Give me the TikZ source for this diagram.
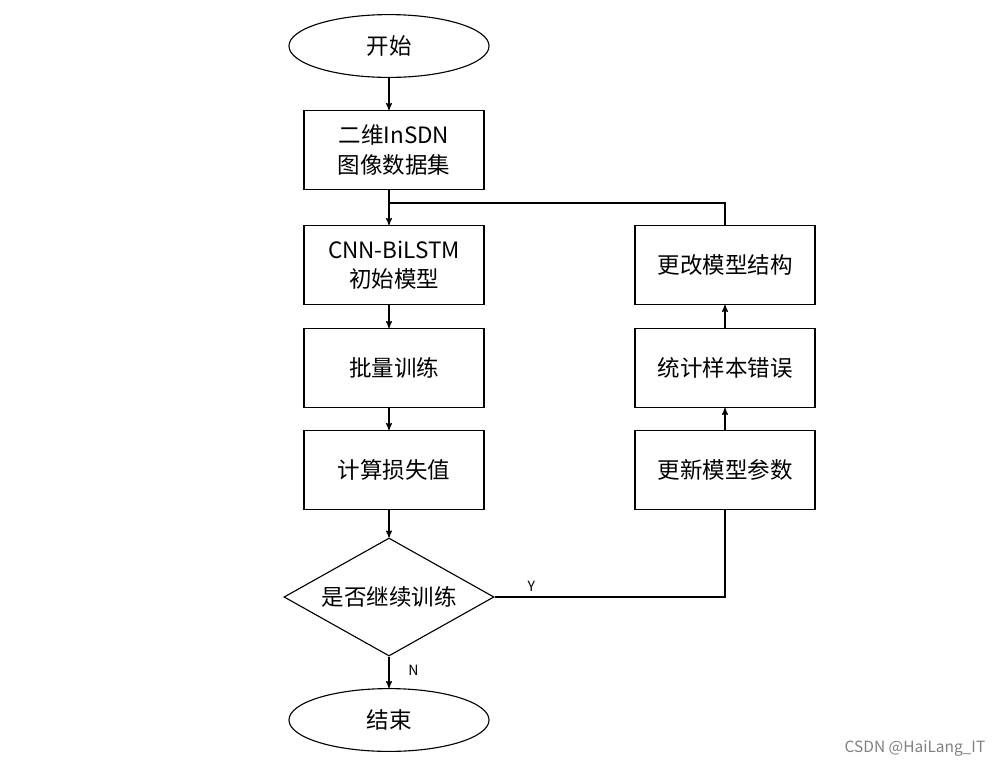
\documentclass[tikz,border=0pt]{standalone}
\usepackage{fontspec}
\setmainfont{Noto Sans CJK SC}
\usetikzlibrary{arrows,shapes.geometric}
\tikzset{
  flownode/.style = {align=center, inner sep=0pt, text centered,
    font=\fontsize{16}{21}\selectfont, draw=black, thick},
  fl_e/.style = {flownode, ellipse, minimum width=5cm, minimum height=1.57cm},% debut, fin
  fl_b/.style = {flownode, rectangle, minimum width=4.5cm, minimum height=1.97cm},% etape
  fl_d/.style = {flownode, diamond, aspect=1.78, minimum width=5.25cm, minimum height=2.95cm}% test
}

\begin{document}
\begin{tikzpicture}[x=0.025cm,y=-0.025cm,>=stealth',thick]
  \useasboundingbox (0,0) rectangle (1002,765);
  \node [fl_e] (start) at (389,46) {开始};
  \node [fl_b] (data) at (394,150) {二维InSDN\\图像数据集};
  \node [fl_b] (model) at (394,265) {CNN-BiLSTM\\初始模型};
  \node [fl_b] (train) at (394,368) {批量训练};
  \node [fl_b] (loss) at (394,470) {计算损失值};
  \node [fl_d] (test) at (389,597) {是否继续训练};
  \node [fl_e] (stop) at (389,720) {结束};
  \node [fl_b] (change) at (725,265) {更改模型结构};
  \node [fl_b] (count) at (725,368) {统计样本错误};
  \node [fl_b] (update) at (725,470) {更新模型参数};
  \coordinate (join) at (389,203);
  \draw [->] (start) -- (start |- data.north);
  \draw [->] (data.south -| start) -- (model.north -| start);
  \draw [->] (model.south -| start) -- (train.north -| start);
  \draw [->] (train.south -| start) -- (loss.north -| start);
  \draw [->] (loss.south -| start) -- (test);
  \draw [->] (test) -- (stop) node [pos=0.45, right=10pt] {N};
  \draw (test.east) -| (update.south) node [pos=0.08, above] {Y};
  \draw [->] (update) -- (count);
  \draw [->] (count) -- (change);
  \draw (change.north) |- (join);
  \node [gray, font=\fontsize{11}{13}\selectfont] (mark) at (915,748) {CSDN @HaiLang\_IT};
\end{tikzpicture}
\end{document}
